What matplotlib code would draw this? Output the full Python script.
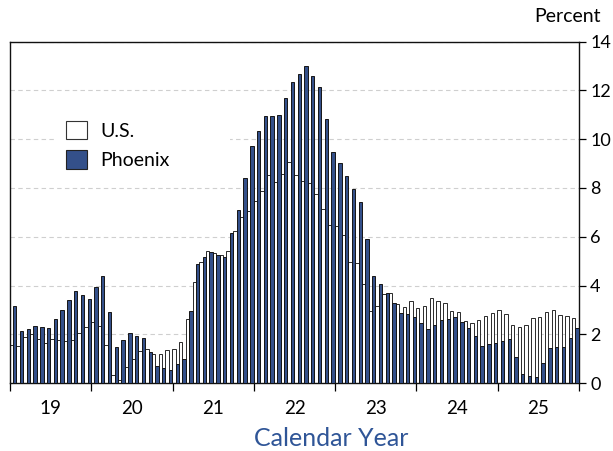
import numpy as np
import matplotlib
matplotlib.use("Agg")
import matplotlib.pyplot as plt
from matplotlib.patches import Patch, Rectangle

plt.rcParams.update({
    "font.family": ["Lato", "DejaVu Sans"],
    "font.size": 13,
})

YEARS = ["19", "20", "21", "22", "23", "24", "25"]

# monthly y/y percent change, Jan 2019 .. Dec 2025
US = [
    1.55, 1.52, 1.88, 2.03, 1.80, 1.67, 1.80, 1.76, 1.72, 1.77, 2.06, 2.31,  # 2019
    2.51, 2.35, 1.56, 0.34, 0.13, 0.65, 0.99, 1.32, 1.39, 1.20, 1.20, 1.36,  # 2020
    1.40, 1.68, 2.62, 4.16, 4.98, 5.40, 5.35, 5.26, 5.40, 6.24, 6.80, 7.05,  # 2021
    7.47, 7.88, 8.54, 8.24, 8.57, 9.07, 8.54, 8.29, 8.19, 7.76, 7.14, 6.49,  # 2022
    6.45, 6.07, 4.98, 4.94, 4.07, 2.98, 3.18, 3.66, 3.71, 3.25, 3.14, 3.39,  # 2023
    3.10, 3.18, 3.51, 3.39, 3.30, 2.96, 2.93, 2.55, 2.48, 2.59, 2.76, 2.89,  # 2024
    3.00, 2.84, 2.39, 2.30, 2.39, 2.66, 2.70, 2.91, 3.00, 2.80, 2.76, 2.69,  # 2025
]
PHOENIX = [
    3.18, 2.16, 2.23, 2.35, 2.32, 2.25, 2.64, 3.00, 3.41, 3.80, 3.62, 3.45,  # 2019
    3.93, 4.40, 2.93, 1.50, 1.77, 2.05, 1.94, 1.86, 1.27, 0.71, 0.62, 0.55,  # 2020
    0.78, 1.00, 2.96, 4.90, 5.16, 5.37, 5.27, 5.16, 6.15, 7.10, 8.40, 9.72,  # 2021
    10.35, 10.93, 10.96, 11.00, 11.68, 12.34, 12.66, 13.00, 12.59, 12.13, 10.81, 9.49,  # 2022
    9.01, 8.50, 7.95, 7.42, 5.90, 4.41, 4.07, 3.71, 3.30, 2.89, 2.82, 2.72,  # 2023
    2.46, 2.23, 2.39, 2.59, 2.62, 2.70, 2.50, 2.25, 1.94, 1.54, 1.61, 1.66,  # 2024
    1.73, 1.81, 1.06, 0.37, 0.30, 0.24, 0.85, 1.43, 1.47, 1.47, 1.84, 2.25,  # 2025
]

BLUE = "#34508A"

fig = plt.figure(figsize=(6.13, 4.51), dpi=100)
ax = fig.add_axes([10 / 613, 1 - 383.3 / 451, 569 / 613, 341.8 / 451])

m = np.arange(len(US))
w = 0.5
ax.bar(m - w / 2, US, width=w, color="white", edgecolor="#2a2a2a",
       linewidth=0.7, zorder=2)
ax.bar(m + w / 2, PHOENIX, width=w, color=BLUE, edgecolor="#151515",
       linewidth=0.7, zorder=3)

ax.set_xlim(-0.45, 83.55)
ax.set_ylim(0, 14)

# year boundaries as ticks, year labels centred between them
ax.set_xticks(np.arange(len(YEARS) + 1) * 12 - 0.45)
ax.set_xticklabels([])
ax.set_xticks(np.arange(len(YEARS)) * 12 + 5.55, minor=True)
ax.set_xticklabels(YEARS, minor=True)
ax.tick_params(axis="x", which="major", direction="out", length=6, width=0.9)
ax.tick_params(axis="x", which="minor", length=0, pad=12, labelsize=13.5)

ax.yaxis.tick_right()
ax.set_yticks(range(0, 15, 2))
ax.tick_params(axis="y", direction="out", length=5, width=0.9, pad=3,
               labelsize=13)

ax.yaxis.grid(True, ls=(0, (4, 3)), color="#cfcfcf", lw=0.8)
ax.set_axisbelow(True)
for s in ax.spines.values():
    s.set_linewidth(1.0)
    s.set_color("#111111")

# white backing behind the legend (hides the grid line there)
ax.add_patch(Rectangle((0.079, 0.688), 0.308, 0.097, transform=ax.transAxes,
                       facecolor="white", edgecolor="none", zorder=1))

handles = [Patch(facecolor="white", edgecolor="#333333", lw=0.8),
           Patch(facecolor=BLUE, edgecolor="#222222", lw=0.8)]
ax.legend(handles, ["U.S.", "Phoenix"], loc="upper left",
          bbox_to_anchor=(0.098, 0.768), frameon=False, borderpad=0,
          borderaxespad=0, handlelength=1.08, handleheight=1.08,
          handletextpad=0.7, labelspacing=0.55, fontsize=14)

fig.text(601 / 613, 1 - 17 / 451, "Percent", ha="right", va="center",
         fontsize=14)
fig.text(331 / 613, 1 - 438 / 451, "Calendar Year", ha="center", va="center",
         fontsize=18, color="#2F5597")

fig.savefig("out.png", dpi=100, facecolor="white")
